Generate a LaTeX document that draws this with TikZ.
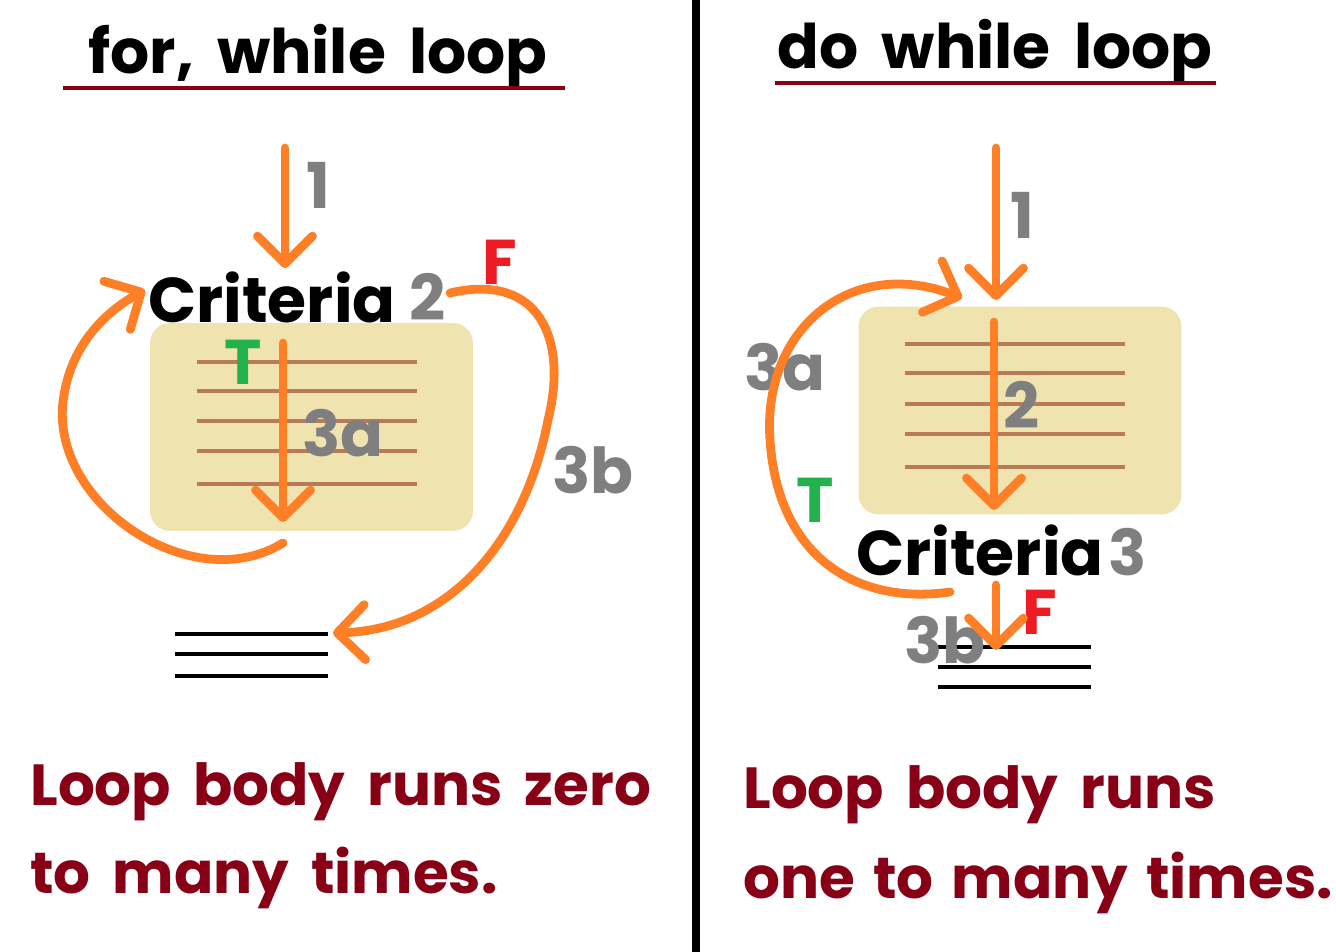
\documentclass[tikz,border=0pt]{standalone}
\usepackage{fontspec}
\setmainfont{Poppins}
\usetikzlibrary{arrows.meta,positioning}
\definecolor{flowc}{HTML}{FF7F27}
\definecolor{numc}{HTML}{7F7F7F}
\definecolor{falsec}{HTML}{ED1C24}
\definecolor{truec}{HTML}{22B14C}
\definecolor{darkc}{HTML}{880015}
\definecolor{boxc}{HTML}{EFE4B0}
\definecolor{rulec}{HTML}{B97A57}
\begin{document}
\begin{tikzpicture}[
    x=0.02cm, y=-0.02cm,
    big/.style={font=\fontsize{36}{36}\selectfont\bfseries, inner sep=0pt},
    title/.style={font=\fontsize{35}{35}\selectfont\bfseries, inner sep=0pt, text=black},
    crit/.style={big, text=black},
    num/.style={big, text=numc},
    fval/.style={big, text=falsec},
    tval/.style={big, text=truec},
    caption/.style={font=\fontsize{33}{33}\selectfont\bfseries, inner sep=0pt, text=darkc, anchor=base west},
    body/.style={fill=boxc, rounded corners=0.4cm, minimum width=6.46cm, minimum height=4.16cm, inner sep=0pt},
    rule/.style={draw=rulec, line width=2.8pt},
    exitline/.style={draw=black, line width=2.8pt},
    uline/.style={draw=darkc, line width=2.4pt},
    flow/.style={draw=flowc, line width=5pt, line cap=round, -{Straight Barb[length=5.5mm,width=11mm,round]}}
]
    \useasboundingbox (0,0) rectangle (1336,952);

    % divider
    \draw[line width=4pt] (696,0) -- (696,952);

    % titles
    \node[title] (titleL) at (318,57) {for,\, while\, loop};
    \node[title] (titleR) at (995,52) {do\, while\, loop};
    \draw[uline] (63,88) -- (565,88);
    \draw[uline] (775,83) -- (1216,83);

    % ---- for / while ----
    \node[body] (boxL) at (311.5,427) {};
    \foreach \y in {362,391,421,451,484}
        \draw[rule] (197,\y) -- (417,\y);
    \foreach \y in {634,654,676}
        \draw[exitline] (175,\y) -- (328,\y);

    \node[crit] (critL) at (272,297) {Criteria};
    \node[num] (oneL) at (318,185) {1};
    \node[num] (twoL) at (428,297) {2};
    \node[fval] (fL) at (500,262) {F};
    \node[tval] (tL) at (243,362) {T};
    \node[num] (aL) at (343,433) {3a};
    \node[num] (bL) at (593,470) {3b};

    \coordinate (inL) at (285,148);
    \coordinate (topL) at (285,268);
    \coordinate (bodyinL) at (283,343);
    \coordinate (bodyoutL) at (283,522);
    \coordinate (backL) at (283,543);
    \coordinate (loopL) at (145,290);
    \coordinate (falseL) at (450,293);
    \coordinate (exitL) at (333,633);

    \draw[flow] (inL) -- (topL);
    \draw[flow] (bodyinL) -- (bodyoutL);
    \draw[flow] (backL) .. controls (190,600) and (45,500) .. (64,395)
        .. controls (72,345) and (105,312) .. (loopL);
    \draw[flow] (falseL) .. controls (540,272) and (568,340) .. (548,420)
        .. controls (525,540) and (450,630) .. (exitL);

    % ---- do while ----
    \node[body] (boxR) at (1020,410.5) {};
    \foreach \y in {344,373,404,434,467}
        \draw[rule] (905,\y) -- (1125,\y);
    \foreach \y in {647,667,687}
        \draw[exitline] (938,\y) -- (1091,\y);

    \node[crit] (critR) at (980,550) {Criteria};
    \node[num] (oneR) at (1022,215) {1};
    \node[num] (twoR) at (1022,405) {2};
    \node[num] (threeR) at (1128,552) {3};
    \node[num] (aR) at (785,367) {3a};
    \node[tval] (tR) at (815,500) {T};
    \node[num] (bR) at (945,640) {3b};
    \node[fval] (fR) at (1040,612) {F};

    \coordinate (inR) at (996,148);
    \coordinate (topR) at (996,300);
    \coordinate (bodyinR) at (994,322);
    \coordinate (bodyoutR) at (994,510);
    \coordinate (backR) at (950,592);
    \coordinate (loopR) at (962,298);
    \coordinate (falseR) at (996,585);
    \coordinate (exitR) at (996,650);

    \draw[flow] (inR) -- (topR);
    \draw[flow] (bodyinR) -- (bodyoutR);
    \draw[flow] (falseR) -- (exitR);
    \draw[flow] (backR) .. controls (860,605) and (778,560) .. (770,440)
        .. controls (762,330) and (850,255) .. (loopR);

    % captions
    \node[caption] (capL1) at (30,805) {Loop\, body\, runs\, zero};
    \node[caption] (capL2) at (30,893) {to\, many\, times.};
    \node[caption] (capR1) at (743,808) {Loop\, body\, runs};
    \node[caption] (capR2) at (743,898) {one\hspace{0.1em} to\hspace{0.1em} many\hspace{0.1em} times.};
\end{tikzpicture}
\end{document}
